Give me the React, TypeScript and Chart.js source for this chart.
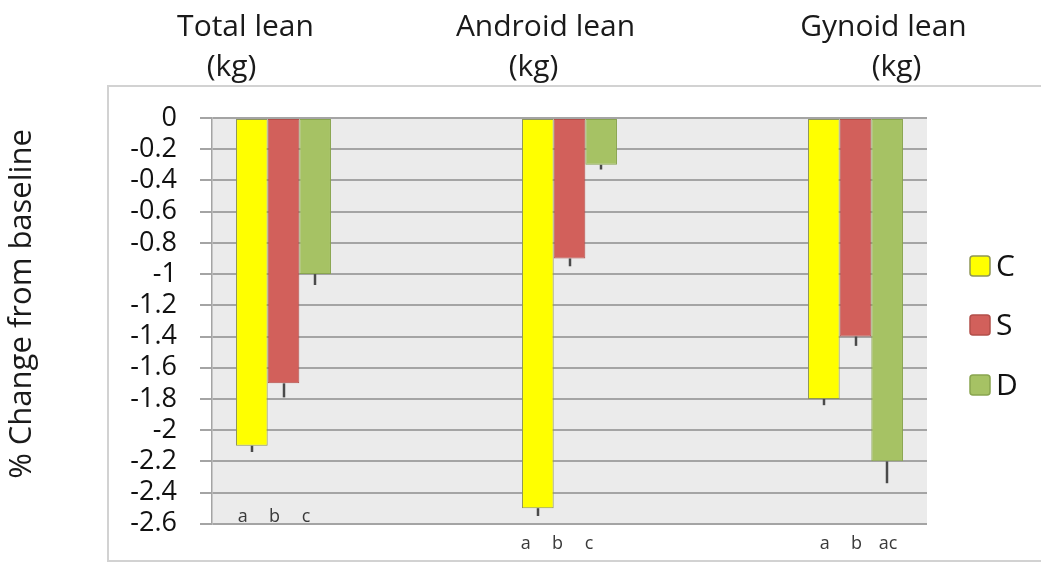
import { useEffect, useRef } from "react";
import { Chart, registerables } from "chart.js";

Chart.register(...registerables);

// Regions measured (categories 2 and 4 are empty spacers between the groups)
const categories = ["Total lean", "", "Android lean", "", "Gynoid lean"];
const titleLines: string[][] = [["Total lean", "(kg)"], [], ["Android lean", "(kg)"], [], ["Gynoid lean", "(kg)"]];

const seriesNames = ["C", "S", "D"];
const valuesC = [-2.1, null, -2.5, null, -1.8];
const valuesS = [-1.7, null, -0.9, null, -1.4];
const valuesD = [-1.0, null, -0.3, null, -2.2];

// Lower error (magnitude below the bar end)
const errorsC = [0.04, null, 0.05, null, 0.04];
const errorsS = [0.09, null, 0.05, null, 0.06];
const errorsD = [0.07, null, 0.03, null, 0.14];

// Significance letters under each bar
const lettersC = ["a", null, "a", null, "a"];
const lettersS = ["b", null, "b", null, "b"];
const lettersD = ["c", null, "c", null, "ac"];

const Y_MIN = -2.6;
const Y_MAX = 0;
const Y_STEP = 0.2;
const Y_TITLE = "% Change from baseline";

const fillColors = ["#ffff00", "#d2605b", "#a6c264"];
const borderColors = ["#8f9656", "#b24f4a", "#89a54f"];

const FONT = "'Open Sans', 'Liberation Sans', sans-serif";

// Placement of the free-floating texts
const titleOffsets: Record<number, [number, number]> = { 0: [-38, -52], 2: [-24, -36], 4: [28, 41] };
const letterPlacement: Record<number, { dx: number; y: number }> = {
  0: { dx: -9, y: 517 },
  2: { dx: -12, y: 544 },
  4: { dx: 1, y: 544 },
};

const decorations = {
  id: "decorations",
  beforeDraw(chart: any) {
    const { ctx, chartArea } = chart;
    ctx.save();
    ctx.fillStyle = "#ffffff";
    ctx.fillRect(0, 0, chart.width, chart.height);
    // outer frame
    ctx.strokeStyle = "#d2d2d2";
    ctx.lineWidth = 2;
    ctx.strokeRect(108, 86, chart.width, 475);
    // plot background
    ctx.fillStyle = "#ebebeb";
    ctx.fillRect(chartArea.left, chartArea.top, chartArea.right - chartArea.left, chartArea.bottom - chartArea.top);
    ctx.restore();
  },
  afterDatasetsDraw(chart: any) {
    const { ctx } = chart;
    const yScale = chart.scales.y;
    const errs = [errorsC, errorsS, errorsD];
    const letters = [lettersC, lettersS, lettersD];
    ctx.save();
    // error bars
    ctx.strokeStyle = "#4a4a4a";
    ctx.lineWidth = 2.5;
    chart.data.datasets.forEach((ds: any, i: number) => {
      const meta = chart.getDatasetMeta(i);
      meta.data.forEach((bar: any, j: number) => {
        const v = ds.data[j];
        const e = errs[i][j];
        if (v == null || e == null) return;
        const y0 = yScale.getPixelForValue(v);
        const y1 = yScale.getPixelForValue(v - e);
        ctx.beginPath();
        ctx.moveTo(Math.round(bar.x), y0);
        ctx.lineTo(Math.round(bar.x), y1);
        ctx.stroke();
      });
    });
    // significance letters
    ctx.fillStyle = "#3a3a3a";
    ctx.font = `18px ${FONT}`;
    ctx.textAlign = "center";
    ctx.textBaseline = "middle";
    chart.data.datasets.forEach((_ds: any, i: number) => {
      const meta = chart.getDatasetMeta(i);
      meta.data.forEach((bar: any, j: number) => {
        const t = letters[i][j];
        const p = letterPlacement[j];
        if (!t || !p) return;
        ctx.fillText(t, bar.x + p.dx, p.y);
      });
    });
    ctx.restore();
  },
  afterDraw(chart: any) {
    const { ctx } = chart;
    const xScale = chart.scales.x;
    ctx.save();
    ctx.fillStyle = "#1a1a1a";
    ctx.textAlign = "center";
    ctx.textBaseline = "alphabetic";
    ctx.font = `30px ${FONT}`;
    // group titles above the plot
    titleLines.forEach((lines, j) => {
      const off = titleOffsets[j];
      if (!lines.length || !off) return;
      const cx = xScale.getPixelForValue(j);
      ctx.fillText(lines[0], cx + off[0], 36);
      ctx.fillText(lines[1], cx + off[1], 76);
    });
    // y axis title
    ctx.save();
    ctx.translate(31, 304);
    ctx.rotate(-Math.PI / 2);
    ctx.font = `31px ${FONT}`;
    ctx.fillText(Y_TITLE, 0, 0);
    ctx.restore();
    // legend
    const rows = [266, 325, 385];
    chart.data.datasets.forEach((ds: any, i: number) => {
      const cy = rows[i];
      ctx.beginPath();
      ctx.roundRect(970, cy - 10, 20, 20, 3);
      ctx.fillStyle = ds.backgroundColor;
      ctx.fill();
      ctx.strokeStyle = ds.borderColor;
      ctx.lineWidth = 1.5;
      ctx.stroke();
      ctx.fillStyle = "#111111";
      ctx.textAlign = "left";
      ctx.textBaseline = "middle";
      ctx.font = `30px ${FONT}`;
      ctx.fillText(ds.label, 996, cy + 1);
    });
    ctx.restore();
  },
};

export default function App() {
  const canvasRef = useRef<HTMLCanvasElement>(null);

  useEffect(() => {
    const canvas = canvasRef.current;
    if (!canvas) return;
    const series = [valuesC, valuesS, valuesD];
    const chart = new Chart(canvas, {
      type: "bar",
      data: {
        labels: categories,
        datasets: series.map((data, i) => ({
          label: seriesNames[i],
          data,
          backgroundColor: fillColors[i],
          borderColor: borderColors[i],
          borderWidth: 1,
          borderSkipped: false,
          categoryPercentage: 0.664,
          barPercentage: 1,
        })),
      },
      options: {
        animation: false,
        responsive: true,
        maintainAspectRatio: false,
        layout: { padding: { left: 110, top: 118, right: 114, bottom: 30 } },
        plugins: { legend: { display: false }, tooltip: { enabled: false } },
        scales: {
          x: { display: false },
          y: {
            min: Y_MIN,
            max: Y_MAX,
            afterFit: (scale: any) => {
              scale.width = 102;
            },
            ticks: {
              stepSize: Y_STEP,
              autoSkip: false,
              padding: 23,
              color: "#111111",
              font: { family: FONT, size: 27 },
              callback: (v: any) => String(Math.round(Number(v) * 10) / 10),
            },
            grid: {
              color: "#a4a4a4",
              lineWidth: 2,
              tickLength: 12,
              drawTicks: true,
            },
            border: { display: true, color: "#a4a4a4", width: 1.5 },
          },
        },
      },
      plugins: [decorations],
    });
    return () => chart.destroy();
  }, []);

  return (
    <div style={{ position: "fixed", left: 0, top: 0, width: 1041, height: 563 }}>
      <canvas ref={canvasRef} />
    </div>
  );
}
